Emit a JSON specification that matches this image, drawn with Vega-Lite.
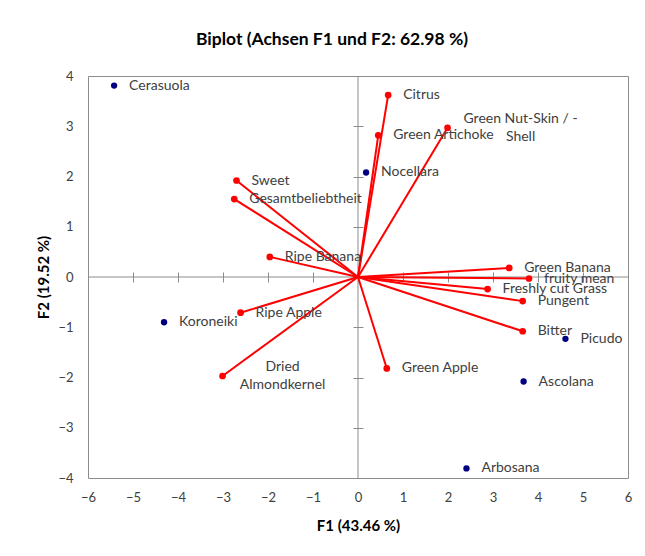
{
  "$schema": "https://vega.github.io/schema/vega-lite/v6.json",
  "autosize": {"type": "none"},
  "width": 540,
  "height": 402,
  "padding": {"left": 88, "top": 76, "right": 17, "bottom": 78},
  "background": "white",
  "title": {
    "text": "Biplot (Achsen F1 und F2: 62.98 %)",
    "font": "Lato",
    "fontSize": 17.5,
    "fontWeight": "bold",
    "color": "#000000",
    "anchor": "middle",
    "offset": 22,
    "dx": -26
  },
  "config": {
    "view": {"stroke": "#8c8c8c", "strokeWidth": 1},
    "axis": {
      "grid": false,
      "labelFont": "Lato",
      "labelFontSize": 13,
      "labelColor": "#404040",
      "titleFont": "Lato",
      "titleFontSize": 15,
      "titleFontWeight": "bold",
      "titleColor": "#000000"
    },
    "text": {"font": "Lato", "fontSize": 14, "color": "#404040", "baseline": "middle"}
  },
  "datasets": {
    "observations": [
      {"name": "Cerasuola", "F1": -5.42, "F2": 3.81},
      {"name": "Nocellara", "F1": 0.18, "F2": 2.08},
      {"name": "Koroneiki", "F1": -4.31, "F2": -0.9},
      {"name": "Picudo", "F1": 4.61, "F2": -1.23},
      {"name": "Ascolana", "F1": 3.68, "F2": -2.08},
      {"name": "Arbosana", "F1": 2.41, "F2": -3.81}
    ],
    "variables": [
      {"name": "Citrus", "label": "Citrus", "F1": 0.67, "F2": 3.62},
      {"name": "Green Artichoke", "label": "Green Artichoke", "F1": 0.45, "F2": 2.82},
      {"name": "Green Nut-Skin / - Shell", "label": ["Green Nut-Skin / -", "Shell"], "F1": 1.99, "F2": 2.97},
      {"name": "Sweet", "label": "Sweet", "F1": -2.7, "F2": 1.92},
      {"name": "Gesamtbeliebtheit", "label": "Gesamtbeliebtheit", "F1": -2.75, "F2": 1.55},
      {"name": "Ripe Banana", "label": "Ripe Banana", "F1": -1.96, "F2": 0.4},
      {"name": "Green Banana", "label": "Green Banana", "F1": 3.36, "F2": 0.18},
      {"name": "fruity mean", "label": "fruity mean", "F1": 3.8, "F2": -0.03},
      {"name": "Freshly cut Grass", "label": "Freshly cut Grass", "F1": 2.88, "F2": -0.24},
      {"name": "Pungent", "label": "Pungent", "F1": 3.66, "F2": -0.48},
      {"name": "Bitter", "label": "Bitter", "F1": 3.66, "F2": -1.08},
      {"name": "Green Apple", "label": "Green Apple", "F1": 0.64, "F2": -1.82},
      {"name": "Ripe Apple", "label": "Ripe Apple", "F1": -2.61, "F2": -0.71},
      {"name": "Dried Almondkernel", "label": ["Dried", "Almondkernel"], "F1": -3.01, "F2": -1.97}
    ]
  },
  "layer": [
    {
      "data": {"values": [{}]},
      "mark": {"type": "rule", "color": "#8c8c8c", "strokeWidth": 1},
      "encoding": {
        "x": {
          "datum": -6, "type": "quantitative",
          "scale": {"domain": [-6, 6], "nice": false, "zero": false},
          "axis": {
            "orient": "bottom", "offset": -206, "domain": false, "labels": false,
            "title": null, "ticks": true, "tickSize": 10, "tickColor": "#8c8c8c",
            "values": [-6, -5, -4, -3, -2, -1, 0, 1, 2, 3, 4, 5, 6]
          }
        },
        "x2": {"datum": 6},
        "y": {
          "datum": 0, "type": "quantitative",
          "scale": {"domain": [-4, 4], "nice": false, "zero": false},
          "axis": null
        }
      }
    },
    {
      "data": {"values": [{}]},
      "mark": {"type": "rule", "color": "#8c8c8c", "strokeWidth": 1},
      "encoding": {
        "x": {
          "datum": 0, "type": "quantitative",
          "scale": {"domain": [-6, 6], "nice": false, "zero": false},
          "axis": null
        },
        "y": {
          "datum": -4, "type": "quantitative",
          "scale": {"domain": [-4, 4], "nice": false, "zero": false},
          "axis": {
            "orient": "left", "offset": -275, "domain": false, "labels": false,
            "title": null, "ticks": true, "tickSize": 10, "tickColor": "#8c8c8c",
            "values": [-4, -3, -2, -1, 0, 1, 2, 3, 4]
          }
        },
        "y2": {"datum": 4}
      }
    },
    {
      "data": {"name": "variables"},
      "mark": {"type": "rule", "color": "#ff0000", "strokeWidth": 2},
      "encoding": {
        "x": {"field": "F1", "type": "quantitative", "scale": {"domain": [-6, 6], "nice": false, "zero": false}, "axis": null},
        "y": {"field": "F2", "type": "quantitative", "scale": {"domain": [-4, 4], "nice": false, "zero": false}, "axis": null},
        "x2": {"datum": 0},
        "y2": {"datum": 0}
      }
    },
    {
      "data": {"name": "variables"},
      "mark": {"type": "circle", "color": "#ff0000", "opacity": 1, "size": 45},
      "encoding": {
        "x": {"field": "F1", "type": "quantitative", "scale": {"domain": [-6, 6], "nice": false, "zero": false}, "axis": null},
        "y": {"field": "F2", "type": "quantitative", "scale": {"domain": [-4, 4], "nice": false, "zero": false}, "axis": null}
      }
    },
    {
      "data": {"name": "observations"},
      "mark": {"type": "circle", "color": "#000080", "opacity": 1, "size": 40},
      "encoding": {
        "x": {
          "field": "F1", "type": "quantitative",
          "scale": {"domain": [-6, 6], "nice": false, "zero": false},
          "axis": {
            "orient": "bottom", "title": "F1 (43.46 %)", "domain": false, "ticks": false,
            "values": [-6, -5, -4, -3, -2, -1, 0, 1, 2, 3, 4, 5, 6],
            "labelPadding": 13, "titlePadding": 14, "labelFlush": false
          }
        },
        "y": {
          "field": "F2", "type": "quantitative",
          "scale": {"domain": [-4, 4], "nice": false, "zero": false},
          "axis": {
            "orient": "left", "title": "F2 (19.52 %)", "domain": false, "ticks": false,
            "values": [-4, -3, -2, -1, 0, 1, 2, 3, 4],
            "labelPadding": 15, "titlePadding": 6, "labelFlush": false
          }
        }
      }
    },
    {
      "data": {"name": "observations"},
      "mark": {"type": "text", "align": "left", "dx": 15},
      "encoding": {
        "x": {"field": "F1", "type": "quantitative", "scale": {"domain": [-6, 6], "nice": false, "zero": false}, "axis": null},
        "y": {"field": "F2", "type": "quantitative", "scale": {"domain": [-4, 4], "nice": false, "zero": false}, "axis": null},
        "text": {"field": "name"}
      }
    },
    {
      "data": {"name": "variables"},
      "transform": [{"filter": "!isArray(datum.label)"}],
      "mark": {"type": "text", "align": "left", "dx": 15},
      "encoding": {
        "x": {"field": "F1", "type": "quantitative", "scale": {"domain": [-6, 6], "nice": false, "zero": false}, "axis": null},
        "y": {"field": "F2", "type": "quantitative", "scale": {"domain": [-4, 4], "nice": false, "zero": false}, "axis": null},
        "text": {"field": "label"}
      }
    },
    {
      "data": {"name": "variables"},
      "transform": [{"filter": "datum.name === 'Green Nut-Skin / - Shell'"}],
      "mark": {"type": "text", "align": "center", "dx": 73, "dy": -9, "lineHeight": 18.5},
      "encoding": {
        "x": {"field": "F1", "type": "quantitative", "scale": {"domain": [-6, 6], "nice": false, "zero": false}, "axis": null},
        "y": {"field": "F2", "type": "quantitative", "scale": {"domain": [-4, 4], "nice": false, "zero": false}, "axis": null},
        "text": {"field": "label"}
      }
    },
    {
      "data": {"name": "variables"},
      "transform": [{"filter": "datum.name === 'Dried Almondkernel'"}],
      "mark": {"type": "text", "align": "center", "dx": 60, "dy": -9, "lineHeight": 18.5},
      "encoding": {
        "x": {"field": "F1", "type": "quantitative", "scale": {"domain": [-6, 6], "nice": false, "zero": false}, "axis": null},
        "y": {"field": "F2", "type": "quantitative", "scale": {"domain": [-4, 4], "nice": false, "zero": false}, "axis": null},
        "text": {"field": "label"}
      }
    }
  ],
  "resolve": {"axis": {"x": "independent", "y": "independent"}}
}
